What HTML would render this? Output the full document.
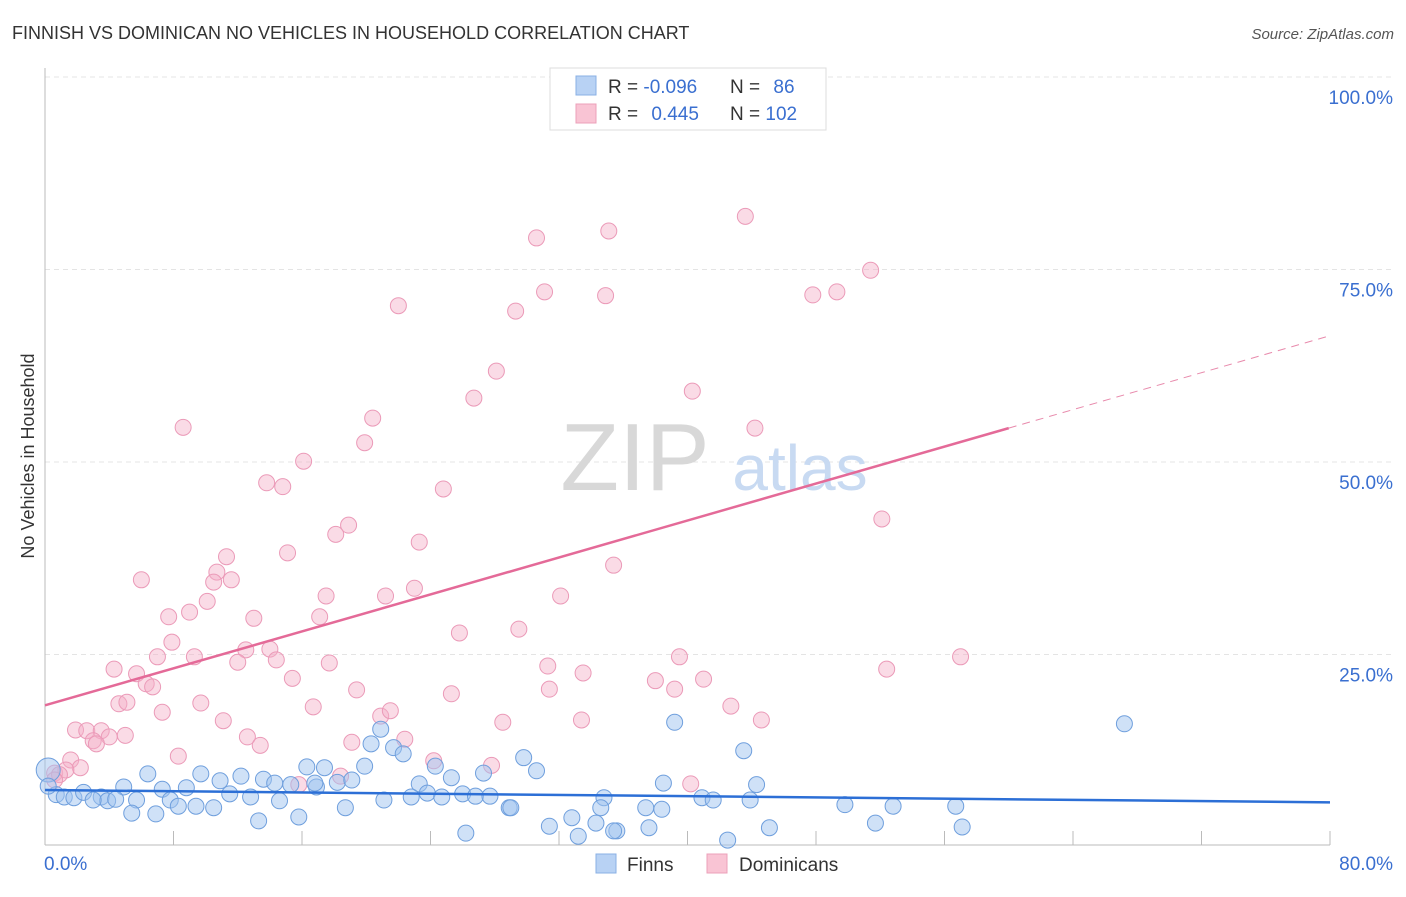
<!DOCTYPE html>
<html><head><meta charset="utf-8"><style>
body{margin:0;background:#fff;font-family:"Liberation Sans",sans-serif}
svg text{font-family:"Liberation Sans",sans-serif}
</style></head><body>
<svg id="chart" width="1406" height="892" xmlns="http://www.w3.org/2000/svg">
<text x="12" y="39" font-size="18" fill="#333">FINNISH VS DOMINICAN NO VEHICLES IN HOUSEHOLD CORRELATION CHART</text>
<text x="1394" y="39" font-size="15" fill="#555" text-anchor="end" font-style="italic">Source: ZipAtlas.com</text>
<g id="grid"></g>
<g><text x="635" y="490" font-size="96" fill="#d8d8d8" text-anchor="middle" font-family="Liberation Serif">ZIP</text><text x="800" y="490" font-size="64" fill="#c8daf2" text-anchor="middle">atlas</text></g>
<g id="axes"></g>
<g id="marks"></g>
<g id="trends"></g>
<text transform="translate(34,456) rotate(-90)" font-size="18" fill="#333" text-anchor="middle">No Vehicles in Household</text>
<g>
<rect x="550" y="68" width="276" height="62" fill="#fff" stroke="#ddd"/>
<rect x="576" y="76" width="20" height="19" fill="#b8d2f4" stroke="#8ab0e4"/>
<rect x="576" y="104" width="20" height="19" fill="#f9c4d4" stroke="#eca0ba"/>
<text x="608" y="93" font-size="19" fill="#333">R = <tspan fill="#3a6fd0">-0.096</tspan></text>
<text x="730" y="93" font-size="19" fill="#333">N = <tspan fill="#3a6fd0" dx="8">86</tspan></text>
<text x="608" y="120" font-size="19" fill="#333">R = <tspan fill="#3a6fd0" dx="8">0.445</tspan></text>
<text x="730" y="120" font-size="19" fill="#333">N = <tspan fill="#3a6fd0">102</tspan></text>
</g>
<g>
<rect x="596" y="854" width="20" height="19" fill="#b8d2f4" stroke="#8ab0e4"/>
<text x="627" y="871" font-size="19" fill="#333">Finns</text>
<rect x="707" y="854" width="20" height="19" fill="#f9c4d4" stroke="#eca0ba"/>
<text x="739" y="871" font-size="19" fill="#333">Dominicans</text>
</g>
</svg>
<script>
const xTicks=[0,10,20,30,40,50,60,70,80];
const yTicks=[25,50,75,100];
const yTickLabels=["25.0%","50.0%","75.0%","100.0%"];
const finnX=[67.2,39.2,20.9,43.5,21.7,20.3,22.3,29.8,16.3,19.9,30.6,17.4,27.3,6.4,9.7,12.2,13.6,15.3,16.9,18.2,19.1,16.8,24.3,23.3,25.3,38.5,44.3,4.9,7.3,8.8,10.9,14.3,11.5,12.8,7.8,14.6,21.1,22.8,23.8,24.7,26.0,26.8,27.7,34.8,40.9,41.6,43.9,0.7,1.2,1.8,2.4,3.5,3.9,4.4,5.7,3.0,0.2,0.2,9.4,10.5,8.3,18.7,28.9,29.0,34.6,37.4,38.4,49.8,52.8,56.7,5.4,6.9,13.3,15.8,32.8,34.3,31.4,51.7,57.1,45.1,26.2,33.2,35.6,35.4,37.6,42.5];
const finnY=[16.0,16.2,15.3,12.5,12.9,13.4,12.1,11.6,10.4,10.5,9.9,10.3,9.6,9.5,9.5,9.2,8.8,8.1,7.8,8.4,8.7,8.3,10.5,8.2,9.0,8.3,8.1,7.8,7.5,7.7,8.6,8.3,6.9,6.5,6.1,6.0,6.1,6.5,7.0,6.5,6.9,6.6,6.6,6.4,6.4,6.1,6.1,6.8,6.5,6.4,7.1,6.5,6.0,6.2,6.1,6.1,10.0,7.9,5.3,5.1,5.3,5.1,5.1,5.1,5.1,5.1,4.9,5.5,5.3,5.3,4.4,4.3,3.4,3.9,3.8,3.1,2.7,3.1,2.6,2.5,1.8,1.4,2.1,2.1,2.5,0.9];
const domX=[43.6,35.1,30.6,51.4,31.1,34.9,47.8,49.3,29.3,22.0,28.1,40.3,26.7,20.4,44.2,8.6,19.9,16.1,13.8,14.8,24.8,52.1,18.9,18.1,23.3,15.1,11.3,35.4,6.0,11.6,10.7,10.5,23.0,32.1,17.5,21.2,10.1,9.0,7.7,13.0,17.1,25.8,29.5,7.9,14.0,12.5,7.0,9.3,14.4,12.0,17.7,39.5,57.0,4.3,5.7,31.3,33.5,52.4,15.4,6.3,6.7,19.4,38.0,39.2,41.0,25.3,31.4,4.6,5.1,9.7,16.7,7.3,42.7,11.1,28.5,33.4,44.6,20.9,21.5,1.9,2.6,3.5,3.0,4.0,5.0,12.6,13.4,22.4,19.1,3.2,8.3,1.6,2.2,24.2,27.8,0.6,1.3,0.9,18.4,40.2,15.8,0.6];
const domY=[81.9,80.0,79.1,74.9,72.1,71.6,71.7,72.1,69.6,70.3,61.8,59.2,58.3,55.7,54.4,54.5,52.5,50.1,47.3,46.8,46.5,42.6,41.8,40.6,39.6,38.2,37.7,36.6,34.7,34.7,35.7,34.4,33.6,32.6,32.6,32.6,31.9,30.5,29.9,29.7,29.9,27.8,28.3,26.6,25.7,25.6,24.7,24.7,24.3,24.0,23.9,24.7,24.7,23.1,22.5,23.5,22.6,23.1,21.9,21.2,20.8,20.4,21.6,20.5,21.8,19.9,20.5,18.6,18.8,18.7,18.2,17.5,18.3,16.4,16.2,16.5,16.5,17.0,17.7,15.2,15.1,15.1,13.8,14.3,14.5,14.3,13.2,14.0,13.6,13.4,11.8,11.3,10.3,11.2,10.6,9.6,10.0,9.4,9.2,8.2,8.1,8.7];
const finnTrend=[7.4,5.8];
const domTrend=[18.4,66.4];
const NS="http://www.w3.org/2000/svg";
const X0=45,X1=1330,Y0=847,YT=77;
const sx=v=>X0+(X1-X0)*v/80;
const sy=v=>Y0-(Y0-YT)*v/100;
function mk(t,a,p){const e=document.createElementNS(NS,t);for(const k in a)e.setAttribute(k,a[k]);p.appendChild(e);return e;}
const grid=document.getElementById('grid'),axes=document.getElementById('axes'),marks=document.getElementById('marks'),trends=document.getElementById('trends');
yTicks.forEach((t,i)=>{
  const l=mk('line',{x1:X0,x2:1394,y1:sy(t),y2:sy(t),stroke:'#e4e4e4','stroke-dasharray':'5,4'},grid);
  
  
  const tx=mk('text',{x:1393,y:sy(t)+27,'font-size':19,fill:'#3a6fd0','text-anchor':'end'},axes);
  tx.textContent=yTickLabels[i];
  
  
});
mk('line',{x1:X0,x2:X0,y1:68,y2:845,stroke:'#bbb'},axes);
mk('line',{x1:X0,x2:X1,y1:845,y2:845,stroke:'#bbb'},axes);
for(let v=0;v<=80;v+=8){
  const t=mk('line',{x1:sx(v),x2:sx(v),y1:831,y2:845,stroke:'#bbb'},axes);
  
  
}
const xl0=mk('text',{x:44,y:870,'font-size':19,fill:'#3a6fd0'},axes);xl0.textContent='0.0%';


const xl1=mk('text',{x:1393,y:870,'font-size':19,fill:'#3a6fd0','text-anchor':'end'},axes);xl1.textContent='80.0%';


domX.forEach((x,i)=>{
  const c=mk('circle',{cx:sx(x),cy:sy(domY[i]),r:8,fill:'rgba(245,175,200,0.45)',stroke:'#eb9ab8','stroke-width':1},marks);
  
  
});
finnX.forEach((x,i)=>{
  const big=(i===56);
  const c=mk('circle',{cx:sx(x),cy:sy(finnY[i]),r:big?12:8,fill:'rgba(160,195,240,0.5)',stroke:'#6f9fdd','stroke-width':1},marks);
  
  
});
const bl=mk('line',{x1:sx(0),y1:sy(finnTrend[0]),x2:sx(80),y2:sy(finnTrend[1]),stroke:'#2c6fd6','stroke-width':2.5},trends);


const slope=(domTrend[1]-domTrend[0])/80;
const pl=mk('line',{x1:sx(0),y1:sy(domTrend[0]),x2:sx(60),y2:sy(domTrend[0]+slope*60),stroke:'#e46a98','stroke-width':2.5},trends);


const pd=mk('line',{x1:sx(60),y1:sy(domTrend[0]+slope*60),x2:sx(80),y2:sy(domTrend[1]),stroke:'#e88aac','stroke-width':1,'stroke-dasharray':'8,6'},trends);


</script>
</body></html>
